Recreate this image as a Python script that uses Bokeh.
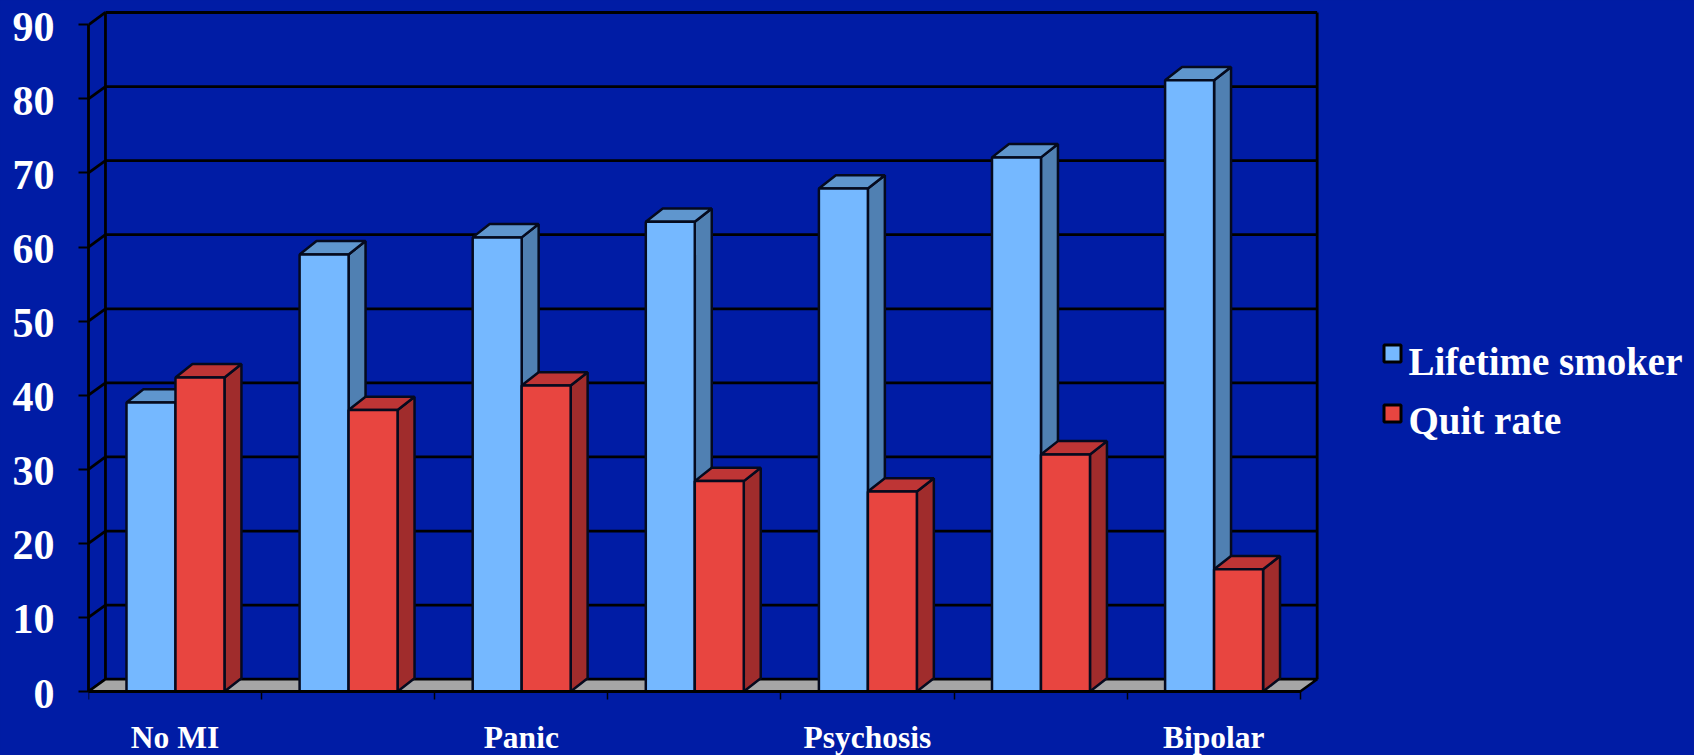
from bokeh.core.properties import value
from bokeh.embed import file_html
from bokeh.models import FixedTicker, LinearAxis, Range1d
from bokeh.plotting import figure
from bokeh.resources import INLINE

# Survey values per diagnostic group
category_positions = [0, 2, 4, 6]
category_labels = ["No MI", "Panic", "Psychosis", "Bipolar"]
lifetime_smoker = [39.0, 59.0, 61.3, 63.4, 67.9, 72.1, 82.5]
quit_rate = [42.4, 38.0, 41.3, 28.4, 27.0, 32.0, 16.5]
y_ticks = [0, 10, 20, 30, 40, 50, 60, 70, 80, 90]

BG = "#001CA5"
SERIF = "Liberation Serif"
N = len(lifetime_smoker)

# Canvas geometry: pixels per unit, and where the origin of the front plane sits
PX_X, PX_Y = 173.1, 7.408
LEFT, BASE = 88, 691

# Oblique projection of the box: depth offset expressed in data units
DX, DY = 0.098, 1.66
BAR_DY = 1.8
BAR_W, BAR_START = 0.283, 0.2195


def to_x(px):
    return (px - LEFT) / PX_X


def to_y(py):
    return (BASE - py) / PX_Y


def box(x0, x1, h):
    """Front, side and top outlines of one extruded bar."""
    front = ([x0, x1, x1, x0], [0, 0, h, h])
    side = ([x1, x1 + DX, x1 + DX, x1], [0, BAR_DY, h + BAR_DY, h])
    top = ([x0, x1, x1 + DX, x0 + DX], [h, h, h + BAR_DY, h + BAR_DY])
    return front, side, top


y_start, y_end = to_y(755), to_y(6)
p = figure(
    width=1694, height=755, output_backend="svg", toolbar_location=None,
    x_range=Range1d(0, to_x(1694)), y_range=Range1d(y_start, y_end),
    background_fill_color=None, border_fill_color=BG, outline_line_color=None,
    min_border_left=LEFT, min_border_right=0, min_border_top=6, min_border_bottom=0,
)
p.grid.visible = False

# Back wall, side wall and gridlines
wall = dict(line_color="black", line_width=2.8)
p.multi_line(
    [[DX, N + DX] for _ in y_ticks] + [[0, DX] for _ in y_ticks],
    [[v + DY, v + DY] for v in y_ticks] + [[v, v + DY] for v in y_ticks],
    **wall,
)
p.multi_line(
    [[DX, DX], [N + DX, N + DX]],
    [[DY, y_ticks[-1] + DY], [DY, y_ticks[-1] + DY]],
    **wall,
)

# Floor
p.patch([0, N, N + DX, DX], [0, 0, DY, DY], fill_color="#A6A6A6",
        line_color="black", line_width=2.5)

# Extruded bars, with the quit-rate bar in front of its neighbour's side face
series = [
    (lifetime_smoker, 0, "#75B8FF", "#5080B2", "#5F96CE"),
    (quit_rate, 1, "#E84540", "#A02C2C", "#BE3535"),
]
for values, slot, c_front, c_side, c_top in series:
    fx, fy, sx, sy, tx, ty = [], [], [], [], [], []
    for i, v in enumerate(values):
        x0 = i + BAR_START + slot * BAR_W
        f, s, t = box(x0, x0 + BAR_W, v)
        fx.append(f[0]); fy.append(f[1])
        sx.append(s[0]); sy.append(s[1])
        tx.append(t[0]); ty.append(t[1])
    style = dict(line_color="#050A1E", line_width=2.5)
    p.patches(sx, sy, fill_color=c_side, **style)
    p.patches(tx, ty, fill_color=c_top, **style)
    p.patches(fx, fy, fill_color=c_front, **style)

# Key: swatches with their labels set slightly lower
key_names = ["Lifetime smoker", "Quit rate"]
key_colors = ["#75B8FF", "#E84540"]
key_tops = [344.5, 404.5]
key_text_y = [360.5, 420.0]
p.quad(
    left=[to_x(1383.5)] * 2, right=[to_x(1400.5)] * 2,
    top=[to_y(t) for t in key_tops], bottom=[to_y(t + 17) for t in key_tops],
    fill_color=key_colors, line_color="black", line_width=3,
)
p.text(
    x=[to_x(1408)] * 2, y=[to_y(b) for b in key_text_y], text=key_names,
    text_font=value(SERIF), text_font_style="bold", text_font_size="39px",
    text_color="white", text_baseline="alphabetic", text_align="left",
)

# Value axis: spine and tick marks only
ya = p.yaxis[0]
ya.ticker = FixedTicker(ticks=[], minor_ticks=y_ticks)
ya.bounds = (y_ticks[0], y_ticks[-1])
ya.axis_line_color = "black"
ya.axis_line_width = 2.8
ya.major_tick_line_color = None
ya.major_tick_in = 0
ya.major_tick_out = 0
ya.minor_tick_line_color = "black"
ya.minor_tick_line_width = 2.2
ya.minor_tick_in = 0
ya.minor_tick_out = 10
ya.major_label_standoff = 0

# Value axis: numbers, on a range nudged so they sit slightly below their ticks
LABEL_NUDGE = 2 / PX_Y
p.extra_y_ranges["value_labels"] = Range1d(y_start + LABEL_NUDGE, y_end + LABEL_NUDGE)
yl = LinearAxis(y_range_name="value_labels", ticker=FixedTicker(ticks=y_ticks))
yl.axis_line_color = None
yl.major_tick_line_color = None
yl.minor_tick_line_color = None
yl.major_tick_in = 0
yl.major_tick_out = 0
yl.major_label_standoff = 24
yl.major_label_text_font = SERIF
yl.major_label_text_font_style = "bold"
yl.major_label_text_font_size = "42px"
yl.major_label_text_color = "white"
p.add_layout(yl, "left")

# Category axis: labels sit mid-category, ticks on the category boundaries
centres = [c + 0.5 for c in category_positions]
xa = p.xaxis[0]
xa.fixed_location = 0
xa.ticker = FixedTicker(ticks=centres, minor_ticks=list(range(N + 1)))
xa.major_label_overrides = dict(zip(centres, category_labels))
xa.bounds = (0, N)
xa.axis_line_color = "black"
xa.axis_line_width = 2.8
xa.major_tick_line_color = None
xa.major_tick_out = 0
xa.major_tick_in = 0
xa.minor_tick_line_color = "black"
xa.minor_tick_line_width = 1.5
xa.minor_tick_out = 8
xa.minor_tick_in = 0
xa.major_label_standoff = 20
xa.major_label_text_font = SERIF
xa.major_label_text_font_style = "bold"
xa.major_label_text_font_size = "31.5px"
xa.major_label_text_color = "white"

page = file_html(p, INLINE).replace("<head>", f"<head><style>html,body{{background:{BG}}}</style>", 1)
open("out.html", "w").write(page)
